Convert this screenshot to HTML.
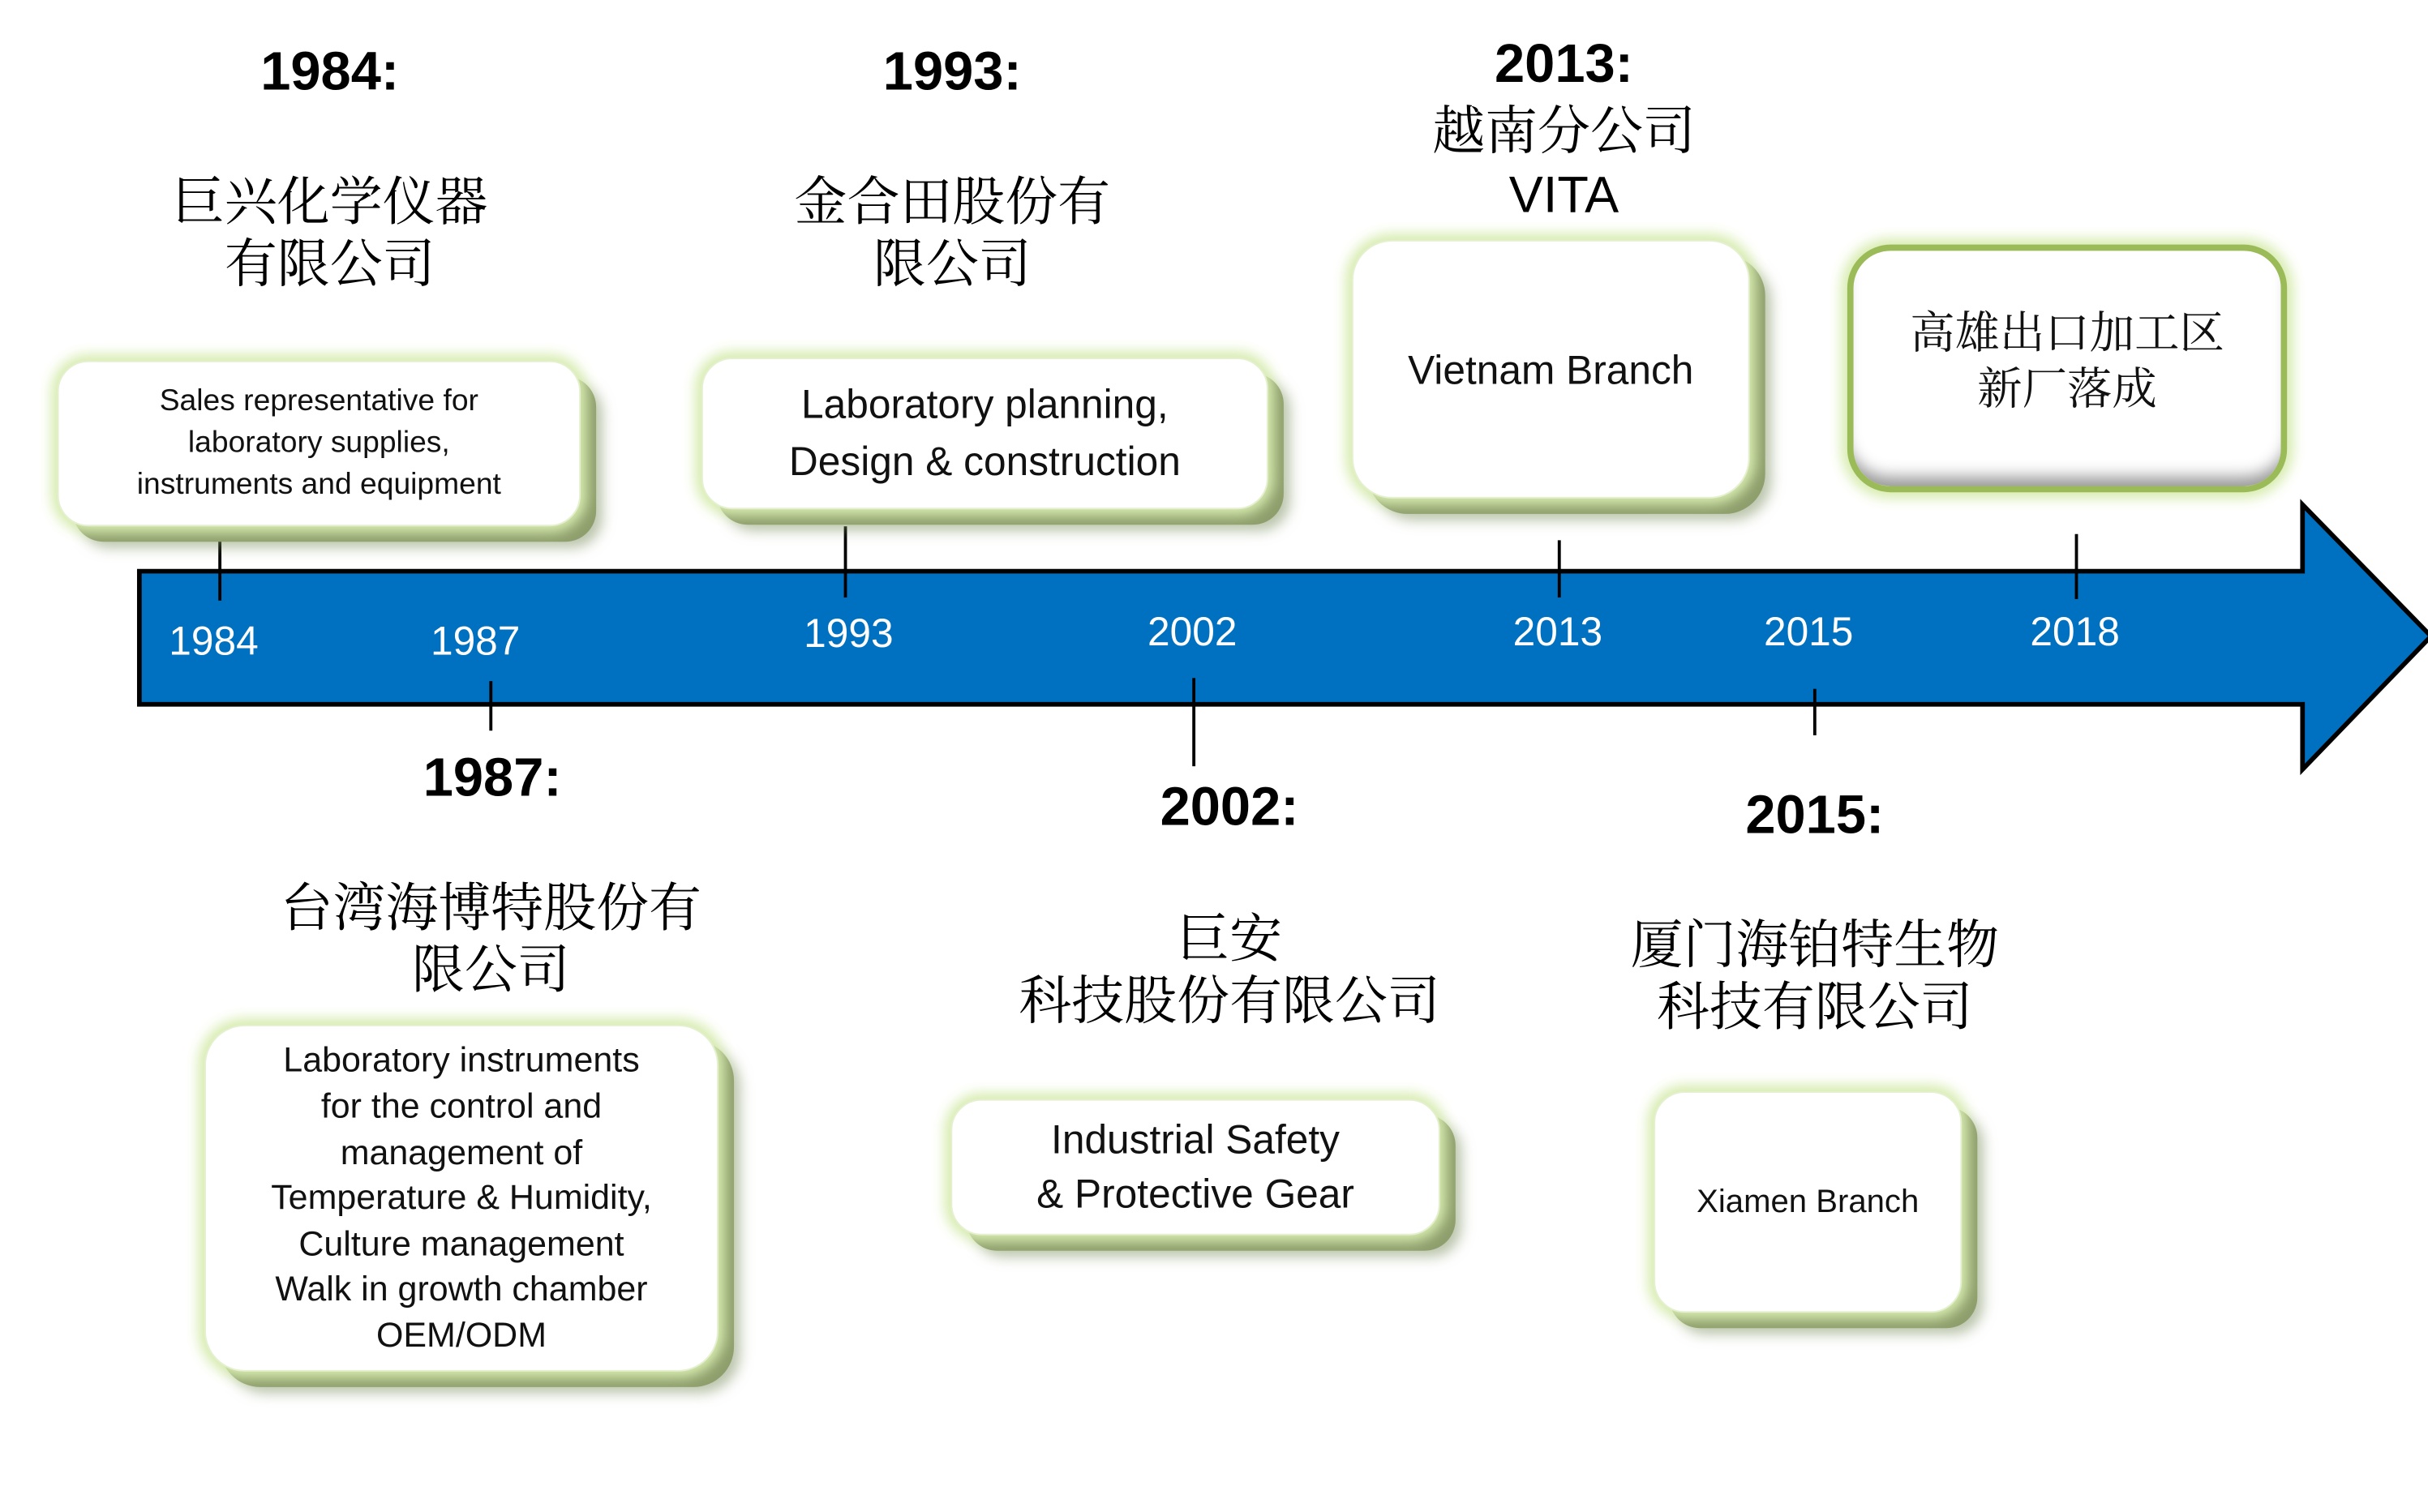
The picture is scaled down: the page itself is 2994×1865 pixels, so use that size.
<!DOCTYPE html>
<html><head><meta charset="utf-8"><style>
html,body{margin:0;padding:0;background:#fff;width:2994px;height:1865px;overflow:hidden}
#w{position:absolute;left:0;top:0;width:1568px;height:977px;transform:scale(1.9094);transform-origin:0 0;font-family:"Liberation Sans","Noto Sans CJK SC",sans-serif}
.t{position:absolute;text-align:center;white-space:nowrap;color:#000}
.h{font-weight:bold;font-size:35px}
.cn{font-family:"Liberation Serif","Noto Serif CJK SC",serif;font-size:34px;line-height:40px}
.box{position:absolute;background:#fff;border-radius:20px;box-shadow:0 0 8px 4px #d8ecb0,10px 10px 0 #8e9e6c,14px 14px 8px rgba(120,140,90,.5);display:flex;align-items:center;justify-content:center;text-align:center;color:#111;border:1px solid #e4f0d0}
.y{position:absolute;color:#fff;font-size:26px;text-align:center;width:100px}
.tk{position:absolute;width:2px;background:#000}
</style></head><body><div id="w">
<svg width="1568" height="977" style="position:absolute;left:0;top:0">
<polygon points="90,369 1487,369 1487,326 1570,411 1487,497 1487,455 90,455" fill="#0070c0" stroke="#000" stroke-width="3"/>
</svg>
<div class="tk" style="left:141px;top:348px;height:40px"></div>
<div class="tk" style="left:316px;top:440px;height:32px"></div>
<div class="tk" style="left:545px;top:340px;height:46px"></div>
<div class="tk" style="left:770px;top:438px;height:57px"></div>
<div class="tk" style="left:1006px;top:349px;height:37px"></div>
<div class="tk" style="left:1171px;top:445px;height:30px"></div>
<div class="tk" style="left:1340px;top:345px;height:42px"></div>

<div class="y" style="left:88px;top:399px">1984</div>
<div class="y" style="left:257px;top:399px">1987</div>
<div class="y" style="left:498px;top:394px">1993</div>
<div class="y" style="left:720px;top:393px">2002</div>
<div class="y" style="left:956px;top:393px">2013</div>
<div class="y" style="left:1118px;top:393px">2015</div>
<div class="y" style="left:1290px;top:393px">2018</div>

<div class="t h" style="left:113px;width:200px;top:27px">1984:</div>
<div class="t cn" style="left:63px;width:300px;top:112px">巨兴化学仪器<br>有限公司</div>
<div class="t h" style="left:515px;width:200px;top:27px">1993:</div>
<div class="t cn" style="left:465px;width:300px;top:112px">金合田股份有<br>限公司</div>
<div class="t h" style="left:910px;width:200px;top:22px">2013:</div>
<div class="t cn" style="left:860px;width:300px;top:66px">越南分公司<br><span style="font-family:'Liberation Sans',sans-serif;font-size:33px">VITA</span></div>
<div class="t h" style="left:218px;width:200px;top:483px">1987:</div>
<div class="t cn" style="left:117px;width:400px;top:568px">台湾海博特股份有<br>限公司</div>
<div class="t h" style="left:694px;width:200px;top:502px">2002:</div>
<div class="t cn" style="left:594px;width:400px;top:588px">巨安<br>科技股份有限公司</div>
<div class="t h" style="left:1072px;width:200px;top:507px">2015:</div>
<div class="t cn" style="left:972px;width:400px;top:592px">厦门海铂特生物<br>科技有限公司</div>

<div class="box" style="left:37px;top:233px;width:336px;height:105px;font-size:19.5px;line-height:27px">Sales representative for<br>laboratory supplies,<br>instruments and equipment</div>
<div class="box" style="left:453px;top:231px;width:364px;height:96px;font-size:26px;line-height:37px">Laboratory planning,<br>Design &amp; construction</div>
<div class="box" style="left:873px;top:155px;width:255px;height:165px;border-radius:26px;font-size:26px;align-items:flex-start;padding-top:0"><div style="margin-top:68px">Vietnam Branch</div></div>
<div class="box" style="left:1193px;top:158px;width:276px;height:152px;border:4px solid #9bbb59;border-radius:28px;box-shadow:0 0 8px 4px #d8ecb0,inset 0 -12px 10px -6px #999;font-family:'Liberation Serif','Noto Serif CJK SC',serif;font-size:29px;line-height:36px"><div style="margin-top:-8px">高雄出口加工区<br>新厂落成</div></div>
<div class="box" style="left:132px;top:662px;width:330px;height:222px;border-radius:26px;font-size:22.5px;line-height:29.6px">Laboratory instruments<br>for the control and<br>management of<br>Temperature &amp; Humidity,<br>Culture management<br>Walk in growth chamber<br>OEM/ODM</div>
<div class="box" style="left:614px;top:710px;width:314px;height:86px;font-size:26px;line-height:35px">Industrial Safety<br>&amp; Protective Gear</div>
<div class="box" style="left:1068px;top:705px;width:197px;height:141px;font-size:21px">Xiamen Branch</div>
</div></body></html>
